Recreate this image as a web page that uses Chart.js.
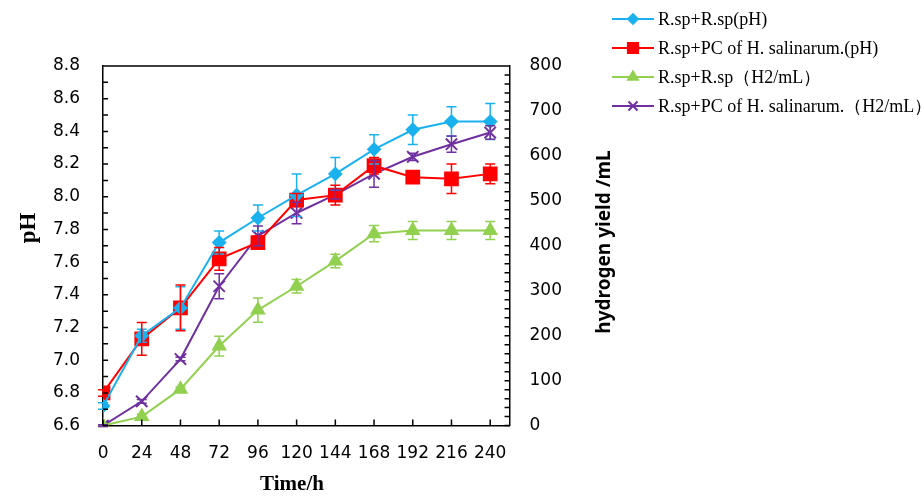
<!DOCTYPE html>
<html>
<head>
<meta charset="utf-8">
<script src="https://cdn.jsdelivr.net/npm/chart.js@4.4.1/dist/chart.umd.min.js"></script>
<style>
	html, body { margin: 0; padding: 0; background: #fff; }
	#wrap { width: 922px; height: 496px; }
</style>
</head>
<body>
<div id="wrap"><canvas id="phchart"></canvas></div>
<script>
var hours = [0, 24, 48, 72, 96, 120, 144, 168, 192, 216, 240];
var phRsp = [6.72, 7.15, 7.32, 7.72, 7.87, 8.01, 8.14, 8.29, 8.41, 8.46, 8.46];
var phRspErr = [0.02, 0.04, 0.13, 0.07, 0.08, 0.13, 0.10, 0.09, 0.09, 0.09, 0.11];
var phPc = [6.80, 7.13, 7.32, 7.62, 7.72, 7.98, 8.01, 8.19, 8.12, 8.11, 8.14];
var phPcErr = [0.02, 0.10, 0.14, 0.07, 0.04, 0.04, 0.06, 0.05, 0.03, 0.09, 0.06];
var h2Rsp = [0, 20, 81, 177, 257, 310, 366, 427, 434, 434, 434];
var h2RspErr = [2, 5, 5, 22, 27, 15, 15, 18, 20, 20, 20];
var h2Pc = [0, 54, 148, 310, 422, 473, 514, 560, 598, 626, 652];
var h2PcErr = [2, 4, 4, 28, 22, 24, 10, 30, 8, 18, 15];
var seriesNames = [
	"R.sp+R.sp(pH)",
	"R.sp+PC of H. salinarum.(pH)",
	"R.sp+R.sp\uFF08H2/mL\uFF09",
	"R.sp+PC of H. salinarum.\uFF08H2/mL\uFF09"
];
var xTitle = "Time/h";
var yTitle = "pH";
var y1Title = "hydrogen yield /mL";

function pts(vals) {
	return hours.map(function (h, i) { return { x: h, y: vals[i] }; });
}

var tickFont = { family: "'DejaVu Sans'", size: 17 };

// error bars, inward ticks, top border, axis titles, legend
var extras = {
	id: "extras",
	afterDatasetsDraw: function (chart) {
		var ctx = chart.ctx;
		chart.data.datasets.forEach(function (ds, di) {
			var meta = chart.getDatasetMeta(di);
			var ys = chart.scales[ds.yAxisID];
			ctx.save();
			ctx.strokeStyle = ds.borderColor;
			ctx.lineWidth = 1.5;
			meta.data.forEach(function (pt, i) {
				var v = ds.data[i].y, e = ds.errors[i];
				var y0 = ys.getPixelForValue(v - e), y1 = ys.getPixelForValue(v + e);
				ctx.beginPath();
				ctx.moveTo(pt.x, y0); ctx.lineTo(pt.x, y1);
				ctx.moveTo(pt.x - 5, y0); ctx.lineTo(pt.x + 5, y0);
				ctx.moveTo(pt.x - 5, y1); ctx.lineTo(pt.x + 5, y1);
				ctx.stroke();
			});
			ctx.restore();
		});
	},
	afterDraw: function (chart) {
		var ctx = chart.ctx, a = chart.chartArea;
		var sx = chart.scales.x, sy = chart.scales.y, sy1 = chart.scales.y1;
		ctx.save();
		ctx.strokeStyle = "#000";
		ctx.lineWidth = 1.5;
		ctx.beginPath();
		ctx.moveTo(a.left, a.top); ctx.lineTo(a.right, a.top);
		for (var p = 66; p <= 88; p++) {
			var y = sy.getPixelForValue(p / 10);
			ctx.moveTo(a.left, y); ctx.lineTo(a.left + 5, y);
		}
		for (var m = 0; m <= 800; m += 20) {
			var y2 = sy1.getPixelForValue(m);
			ctx.moveTo(a.right, y2); ctx.lineTo(a.right - 5, y2);
		}
		hours.forEach(function (h) {
			var x = sx.getPixelForValue(h);
			ctx.moveTo(x, a.bottom); ctx.lineTo(x, a.bottom - 6);
		});
		ctx.stroke();

		// axis titles
		ctx.fillStyle = "#000";
		ctx.textAlign = "center";
		ctx.textBaseline = "middle";
		ctx.font = "bold 21px 'Liberation Serif'";
		ctx.fillText(xTitle, 292, 485);
		ctx.save();
		ctx.translate(29, 228);
		ctx.rotate(-Math.PI / 2);
		ctx.font = "bold 23px 'Liberation Serif'";
		ctx.fillText(yTitle, 0, 0);
		ctx.restore();
		ctx.save();
		ctx.translate(605, 242);
		ctx.rotate(-Math.PI / 2);
		ctx.font = "bold 19px 'Noto Sans'";
		ctx.fillText(y1Title, 0, 0);
		ctx.restore();

		// legend
		var lx = 612, ly = [19, 48, 77, 106];
		ctx.font = "18px 'Liberation Serif'";
		ctx.textAlign = "left";
		chart.data.datasets.forEach(function (ds, i) {
			ctx.strokeStyle = ds.borderColor;
			ctx.fillStyle = ds.backgroundColor;
			ctx.lineWidth = 2;
			ctx.beginPath();
			ctx.moveTo(lx, ly[i]); ctx.lineTo(lx + 42, ly[i]);
			ctx.stroke();
			Chart.helpers.drawPoint(ctx, {
				pointStyle: ds.pointStyle, radius: ds.pointRadius * 0.8, borderWidth: 2
			}, lx + 21, ly[i]);
			ctx.fillStyle = "#000";
			ctx.fillText(seriesNames[i], lx + 46, ly[i] + 1);
		});
		ctx.restore();
	}
};

var ctx = document.getElementById("phchart");

var data = {
	datasets: [{
			label: seriesNames[0],
			data: pts(phRsp),
			errors: phRspErr,
			yAxisID: "y",
			borderColor: "#1AB2EE",
			backgroundColor: "#1AB2EE",
			pointStyle: "rectRot",
			pointRadius: 6,
			borderWidth: 2
		},
		{
			label: seriesNames[1],
			data: pts(phPc),
			errors: phPcErr,
			yAxisID: "y",
			borderColor: "#FF0000",
			backgroundColor: "#FF0000",
			pointStyle: "rect",
			pointRadius: 9,
			borderWidth: 2
		},
		{
			label: seriesNames[2],
			data: pts(h2Rsp),
			errors: h2RspErr,
			yAxisID: "y1",
			borderColor: "#92D050",
			backgroundColor: "#92D050",
			pointStyle: "triangle",
			pointRadius: 7,
			borderWidth: 2
		},
		{
			label: seriesNames[3],
			data: pts(h2Pc),
			errors: h2PcErr,
			yAxisID: "y1",
			borderColor: "#7030A0",
			backgroundColor: "#7030A0",
			pointStyle: "crossRot",
			pointRadius: 8,
			pointBorderWidth: 2,
			borderWidth: 2
		}
	]
};

var options = {
	responsive: true,
	maintainAspectRatio: false,
	animation: false,
	layout: { padding: { left: 30, right: 340, top: 66, bottom: 14 } },
	plugins: {
		legend: { display: false },
		tooltip: { enabled: false }
	},
	scales: {
		x: {
			type: "linear",
			min: 0,
			max: 252,
			afterBuildTicks: function (scale) {
				scale.ticks = hours.map(function (h) { return { value: h }; });
			},
			grid: { drawOnChartArea: false, drawTicks: false },
			border: { color: "#000", width: 1.5 },
			ticks: { color: "#000", font: tickFont, padding: 18, maxRotation: 0 }
		},
		y: {
			position: "left",
			min: 6.6,
			max: 8.8,
			grid: { drawOnChartArea: false, drawTicks: false },
			border: { color: "#000", width: 1.5 },
			ticks: {
				stepSize: 0.2,
				color: "#000",
				font: tickFont,
				padding: 23,
				callback: function (v) { return v.toFixed(1); }
			}
		},
		y1: {
			position: "right",
			min: 0,
			max: 800,
			grid: { drawOnChartArea: false, drawTicks: false },
			border: { color: "#000", width: 1.5 },
			ticks: { stepSize: 100, color: "#000", font: tickFont, padding: 20 }
		}
	}
};

var chart = new Chart(ctx, {
	type: "line",
	data: data,
	options: options,
	plugins: [extras]
});
</script>
</body>
</html>
